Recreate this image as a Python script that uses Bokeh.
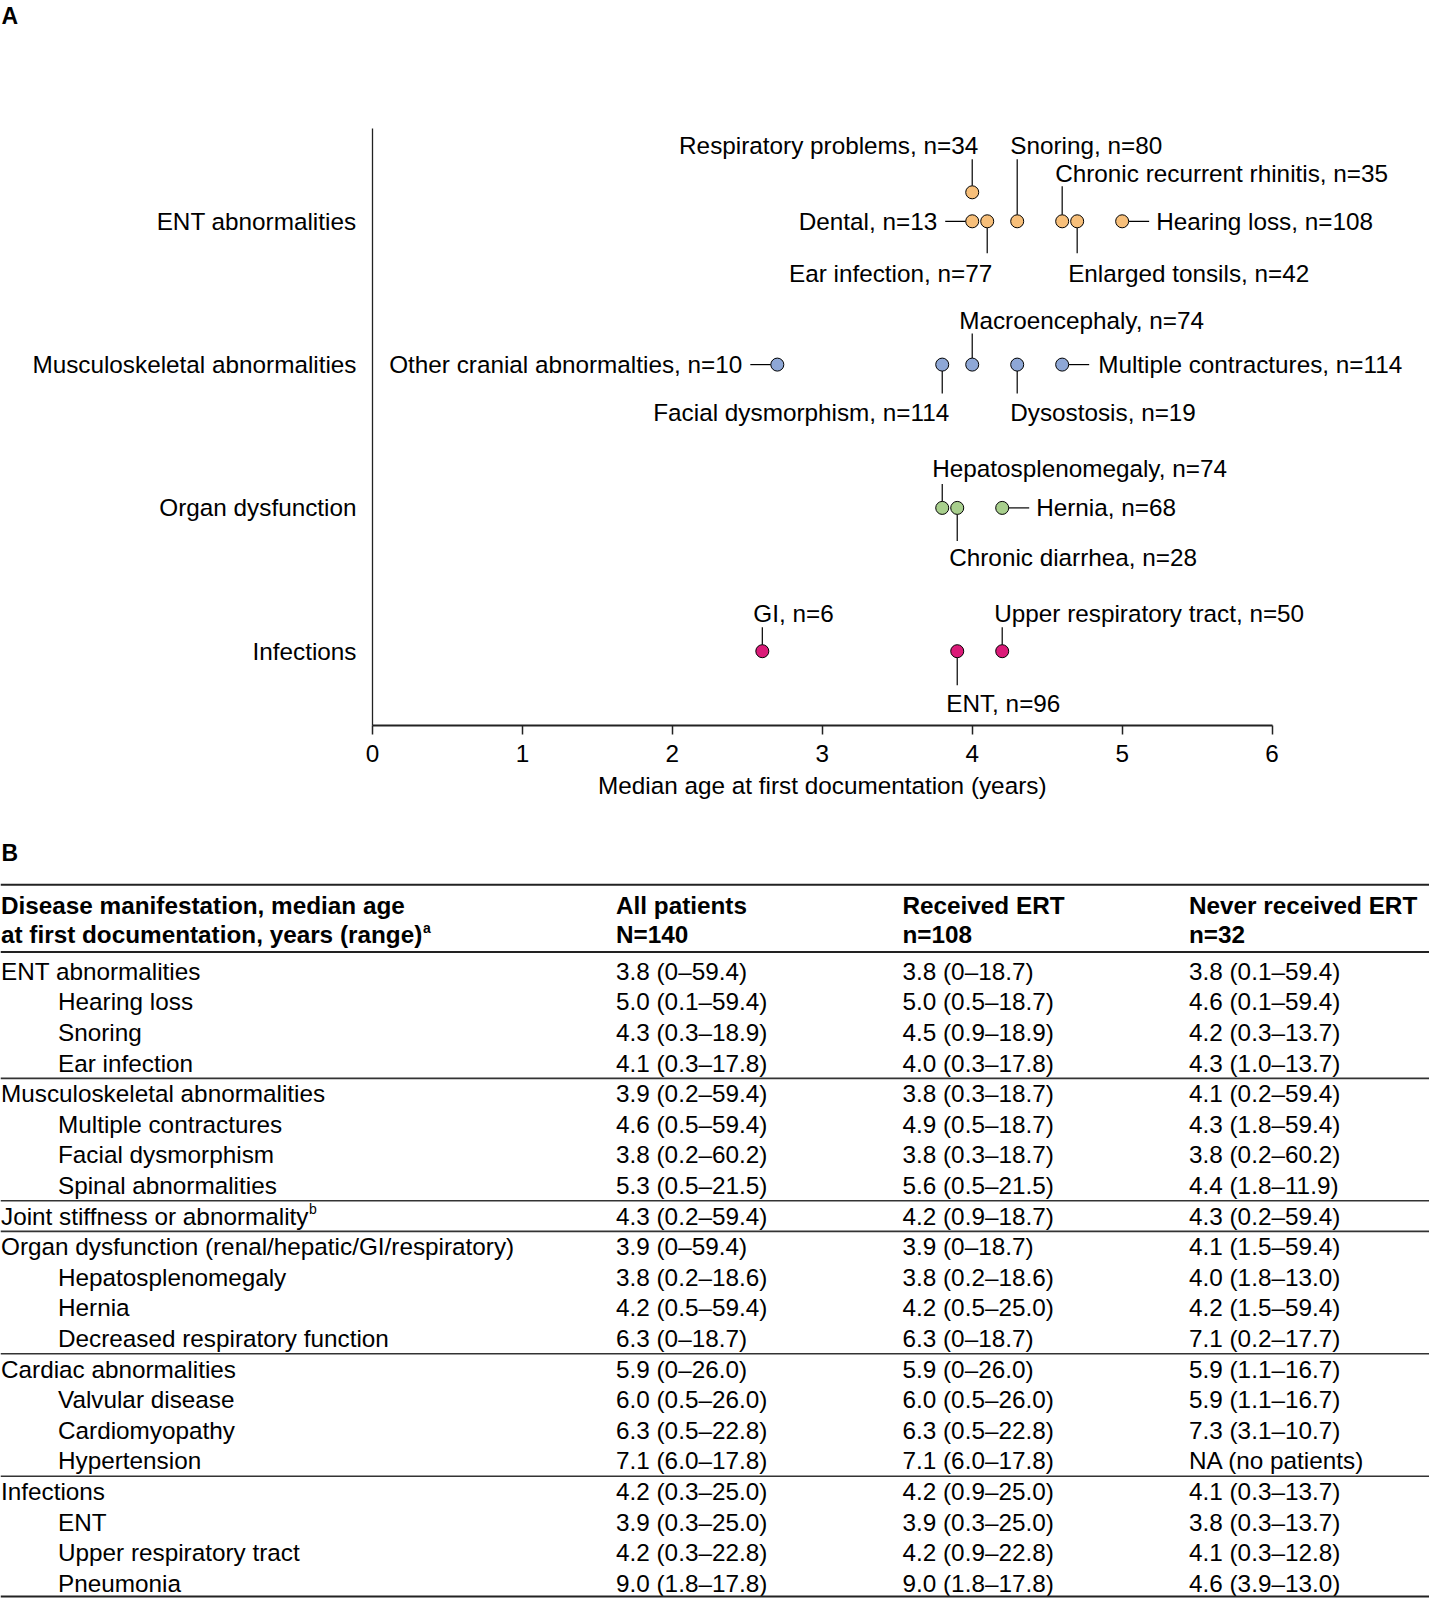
from bokeh.plotting import figure
from bokeh.layouts import column
from bokeh.models import Range1d, FixedTicker, ColumnDataSource, LabelSet
from bokeh.core.properties import value
from bokeh.embed import file_html
from bokeh.resources import INLINE

FONT = "Liberation Sans"
FS = "24.3px"

# ---------------- data : panel A ----------------
categories = ["ENT abnormalities", "Musculoskeletal abnormalities", "Organ dysfunction", "Infections"]
ent_labels = ["Respiratory problems", "Dental", "Ear infection", "Snoring",
              "Chronic recurrent rhinitis", "Enlarged tonsils", "Hearing loss"]
ent_age = [4.0, 4.0, 4.1, 4.3, 4.6, 4.7, 5.0]
ent_n = [34, 13, 77, 80, 35, 42, 108]
msk_labels = ["Other cranial abnormalties", "Facial dysmorphism", "Macroencephaly",
              "Dysostosis", "Multiple contractures"]
msk_age = [2.7, 3.8, 4.0, 4.3, 4.6]
msk_n = [10, 114, 74, 19, 114]
org_labels = ["Hepatosplenomegaly", "Chronic diarrhea", "Hernia"]
org_age = [3.8, 3.9, 4.2]
org_n = [74, 28, 68]
inf_labels = ["GI", "ENT", "Upper respiratory tract"]
inf_age = [2.6, 3.9, 4.2]
inf_n = [6, 96, 50]
x_ticks = [0, 1, 2, 3, 4, 5, 6]
x_title = "Median age at first documentation (years)"
group_colors = ["#F7BF7A", "#8EA7D6", "#A8CF8D", "#DB1A78"]

# ---------------- data : panel B (table) ----------------
header_col1 = ["Disease manifestation, median age", "at first documentation, years (range)"]
header_cols = [["All patients", "N=140"], ["Received ERT", "n=108"], ["Never received ERT", "n=32"]]
row_labels = ["ENT abnormalities", "Hearing loss", "Snoring", "Ear infection",
              "Musculoskeletal abnormalities", "Multiple contractures", "Facial dysmorphism",
              "Spinal abnormalities", "Joint stiffness or abnormality",
              "Organ dysfunction (renal/hepatic/GI/respiratory)", "Hepatosplenomegaly", "Hernia",
              "Decreased respiratory function", "Cardiac abnormalities", "Valvular disease",
              "Cardiomyopathy", "Hypertension", "Infections", "ENT", "Upper respiratory tract",
              "Pneumonia"]
row_indent = [0, 1, 1, 1, 0, 1, 1, 1, 0, 0, 1, 1, 1, 0, 1, 1, 1, 0, 1, 1, 1]
all_patients = ["3.8 (0–59.4)", "5.0 (0.1–59.4)", "4.3 (0.3–18.9)", "4.1 (0.3–17.8)",
                "3.9 (0.2–59.4)", "4.6 (0.5–59.4)", "3.8 (0.2–60.2)", "5.3 (0.5–21.5)",
                "4.3 (0.2–59.4)", "3.9 (0–59.4)", "3.8 (0.2–18.6)", "4.2 (0.5–59.4)",
                "6.3 (0–18.7)", "5.9 (0–26.0)", "6.0 (0.5–26.0)", "6.3 (0.5–22.8)",
                "7.1 (6.0–17.8)", "4.2 (0.3–25.0)", "3.9 (0.3–25.0)", "4.2 (0.3–22.8)",
                "9.0 (1.8–17.8)"]
received_ert = ["3.8 (0–18.7)", "5.0 (0.5–18.7)", "4.5 (0.9–18.9)", "4.0 (0.3–17.8)",
                "3.8 (0.3–18.7)", "4.9 (0.5–18.7)", "3.8 (0.3–18.7)", "5.6 (0.5–21.5)",
                "4.2 (0.9–18.7)", "3.9 (0–18.7)", "3.8 (0.2–18.6)", "4.2 (0.5–25.0)",
                "6.3 (0–18.7)", "5.9 (0–26.0)", "6.0 (0.5–26.0)", "6.3 (0.5–22.8)",
                "7.1 (6.0–17.8)", "4.2 (0.9–25.0)", "3.9 (0.3–25.0)", "4.2 (0.9–22.8)",
                "9.0 (1.8–17.8)"]
never_ert = ["3.8 (0.1–59.4)", "4.6 (0.1–59.4)", "4.2 (0.3–13.7)", "4.3 (1.0–13.7)",
             "4.1 (0.2–59.4)", "4.3 (1.8–59.4)", "3.8 (0.2–60.2)", "4.4 (1.8–11.9)",
             "4.3 (0.2–59.4)", "4.1 (1.5–59.4)", "4.0 (1.8–13.0)", "4.2 (1.5–59.4)",
             "7.1 (0.2–17.7)", "5.9 (1.1–16.7)", "5.9 (1.1–16.7)", "7.3 (3.1–10.7)",
             "NA (no patients)", "4.1 (0.3–13.7)", "3.8 (0.3–13.7)", "4.1 (0.3–12.8)",
             "4.6 (3.9–13.0)"]
group_ends = [3, 7, 8, 12, 16]

# ---------------- layout / style (pixels) ----------------
# (kind, label_dy, lead_end, label_dx, align, raise)   dy positive = downward
ent_style = [("up", -76, -62, 6, "right", 29), ("left", 0, -27, -35, "right", 0),
             ("down", 52, 32, 5, "right", 0), ("up", -76, -62, -7, "left", 0),
             ("up", -48, -35, -7, "left", 0), ("down", 52, 32, -9, "left", 0),
             ("right", 0, 27, 34, "left", 0)]
msk_style = [("left", 0, -27, -35, "right", 0), ("down", 48, 29, 7, "right", 0),
             ("up", -44, -31, -13, "left", 0), ("down", 48, 29, -7, "left", 0),
             ("right", 0, 27, 36, "left", 0)]
org_style = [("up", -39, -24, -10, "left", 0), ("down", 50, 33, -8, "left", 0),
             ("right", 0, 27, 34, "left", 0)]
inf_style = [("up", -38, -24, -9, "left", 0), ("down", 52, 34, -11, "left", 0),
             ("up", -38, -24, -8, "left", 0)]

W = 1429
PAGE_H = 1599
H_HEAD = 38
BORDER_L, BORDER_T, BORDER_B = 372, 90, 48
FRAME_H = 597
H_A = BORDER_T + FRAME_H + BORDER_B
H_B = PAGE_H - H_HEAD - H_A
FRAME_W = W - BORDER_L
XS = 149.93                   # px per year
YS = 143.3                    # px per category step
X_END = FRAME_W / XS
Y_END = 4 + 92.8 / YS
Y_START = Y_END - FRAME_H / YS
R = 6.5


def bare_figure(h):
    f = figure(width=W, height=h, x_range=Range1d(0, W), y_range=Range1d(h, 0),
               x_axis_type=None, y_axis_type=None, toolbar_location=None,
               output_backend="svg", min_border=0)
    f.frame_align = False
    f.grid.visible = False
    f.outline_line_color = None
    return f


# ---------------- header figure ("A") ----------------
pH = bare_figure(H_HEAD)
pH.text(x=[1], y=[15], text=["A"], text_font=value(FONT), text_font_size="23px",
        text_font_style="bold", text_baseline="middle", text_align="left", text_color="black")

# ---------------- panel A ----------------
p = figure(width=W, height=H_A, x_range=Range1d(0, X_END), y_range=Range1d(Y_START, Y_END),
           toolbar_location=None, output_backend="svg",
           min_border_left=BORDER_L, min_border_right=0,
           min_border_top=BORDER_T, min_border_bottom=BORDER_B)
p.frame_align = False
p.grid.visible = False
p.outline_line_color = None

groups = [(ent_labels, ent_age, ent_n, ent_style),
          (msk_labels, msk_age, msk_n, msk_style),
          (org_labels, org_age, org_n, org_style),
          (inf_labels, inf_age, inf_n, inf_style)]

for gi, (labels, ages, ns, styles) in enumerate(groups):
    row = 4 - gi
    color = group_colors[gi]
    px, py = [], []
    lx0, ly0, lx1, ly1 = [], [], [], []
    texts = {"left": dict(x=[], y=[], t=[], dx=[], dy=[]),
             "right": dict(x=[], y=[], t=[], dx=[], dy=[])}
    for lab, a, n, st in zip(labels, ages, ns, styles):
        kind, ldy, lend, ldx, align, rz = st
        yp = row + rz / YS
        px.append(a)
        py.append(yp)
        if kind == "up":
            lx0.append(a); lx1.append(a)
            ly0.append(row + (rz + R) / YS); ly1.append(row - lend / YS)
        elif kind == "down":
            lx0.append(a); lx1.append(a)
            ly0.append(row - R / YS); ly1.append(row - lend / YS)
        elif kind == "left":
            lx0.append(a - R / XS); lx1.append(a + lend / XS)
            ly0.append(yp); ly1.append(yp)
        else:
            lx0.append(a + R / XS); lx1.append(a + lend / XS)
            ly0.append(yp); ly1.append(yp)
        d = texts[align]
        d["x"].append(a); d["y"].append(row); d["t"].append(f"{lab}, n={n}")
        d["dx"].append(ldx); d["dy"].append(-ldy)
    p.segment(x0=lx0, y0=ly0, x1=lx1, y1=ly1, line_color="black", line_width=1.2)
    p.scatter(x=px, y=py, size=2 * R, marker="circle", fill_color=color,
              line_color="black", line_width=1)
    for align, d in texts.items():
        if not d["t"]:
            continue
        src = ColumnDataSource(dict(x=d["x"], y=d["y"], t=d["t"], dx=d["dx"], dy=d["dy"]))
        p.add_layout(LabelSet(x="x", y="y", text="t", x_offset="dx", y_offset="dy", source=src,
                              text_font=value(FONT), text_font_size=FS, text_align=align,
                              text_baseline="middle", text_color="black"))

xa = p.xaxis[0]
xa.ticker = FixedTicker(ticks=x_ticks)
xa.bounds = (x_ticks[0], x_ticks[-1])
xa.major_label_text_font = FONT
xa.major_label_text_font_size = FS
xa.major_label_text_color = "black"
xa.major_label_standoff = 10
xa.axis_line_width = 2.2
xa.axis_line_color = "#222222"
xa.major_tick_line_color = "#222222"
xa.major_tick_line_width = 1.5
xa.major_tick_out = 9
xa.major_tick_in = 0
xa.minor_tick_line_color = None

ya = p.yaxis[0]
ya.ticker = FixedTicker(ticks=[4, 3, 2, 1])
ya.major_label_overrides = {4 - i: c for i, c in enumerate(categories)}
ya.bounds = (Y_START, Y_END)
ya.major_label_text_font = FONT
ya.major_label_text_font_size = FS
ya.major_label_text_color = "black"
ya.major_label_standoff = 10
ya.major_tick_line_color = None
ya.minor_tick_line_color = None
ya.axis_line_width = 1.3
ya.axis_line_color = "#222222"

# ---------------- lower figure: x-axis title of panel A + panel B (table) ----------------
pB = bare_figure(H_B)

# x-axis title, centred on the 0..6 span of panel A's axis
title_x = BORDER_L + XS * (x_ticks[0] + x_ticks[-1]) / 2
pB.text(x=[title_x], y=[12], text=[x_title], text_font=value(FONT), text_font_size=FS,
        text_baseline="middle", text_align="center", text_color="black")

OFF = 63
COL1, INDENT, COLS = 0.5, 57, [615.5, 902, 1188.5]
TOP_LINE, HEAD1, HEAD2, HEAD_LINE = OFF + 48.2, OFF + 68.6, OFF + 98.1, OFF + 115.5
ROW0, STEP = OFF + 134.8, 30.6

pB.text(x=[1], y=[OFF + 16.6], text=["B"], text_font=value(FONT), text_font_size="23px",
        text_font_style="bold", text_baseline="middle", text_align="left", text_color="black")

hx = [COL1, COL1] + [c for c in COLS for _ in range(2)]
hy = [HEAD1, HEAD2] * 4
ht = header_col1 + [s for pair in header_cols for s in pair]
pB.text(x=hx, y=hy, text=ht, text_font=value(FONT), text_font_size=FS,
        text_font_style="bold", text_baseline="middle", text_align="left", text_color="black")
# footnote markers
pB.text(x=[COL1 + 422], y=[HEAD2 - 7], text=["a"], text_font=value(FONT), text_font_size="14px",
        text_font_style="bold", text_baseline="middle", text_align="left", text_color="black")
ry = [ROW0 + i * STEP for i in range(len(row_labels))]
jidx = row_labels.index("Joint stiffness or abnormality")
pB.text(x=[COL1 + 308], y=[ry[jidx] - 7], text=["b"], text_font=value(FONT), text_font_size="14px",
        text_baseline="middle", text_align="left", text_color="black")

rx = [COL1 + INDENT * k for k in row_indent]
pB.text(x=rx, y=ry, text=row_labels, text_font=value(FONT), text_font_size=FS,
        text_baseline="middle", text_align="left", text_color="black")
for cx, col in zip(COLS, [all_patients, received_ert, never_ert]):
    pB.text(x=[cx] * len(col), y=ry, text=col, text_font=value(FONT), text_font_size=FS,
            text_baseline="middle", text_align="left", text_color="black")

bottom = ry[-1] + 13.3
pB.segment(x0=[0, 0, 0], x1=[W, W, W], y0=[TOP_LINE, HEAD_LINE, bottom],
           y1=[TOP_LINE, HEAD_LINE, bottom], line_color="#222222", line_width=2)
sep = [(ry[g] + ry[g + 1]) / 2 for g in group_ends]
pB.segment(x0=[0] * len(sep), x1=[W] * len(sep), y0=sep, y1=sep,
           line_color="#333333", line_width=1.6)

layout = column(pH, p, pB, spacing=0)
open("out.html", "w").write(file_html(layout, INLINE))
